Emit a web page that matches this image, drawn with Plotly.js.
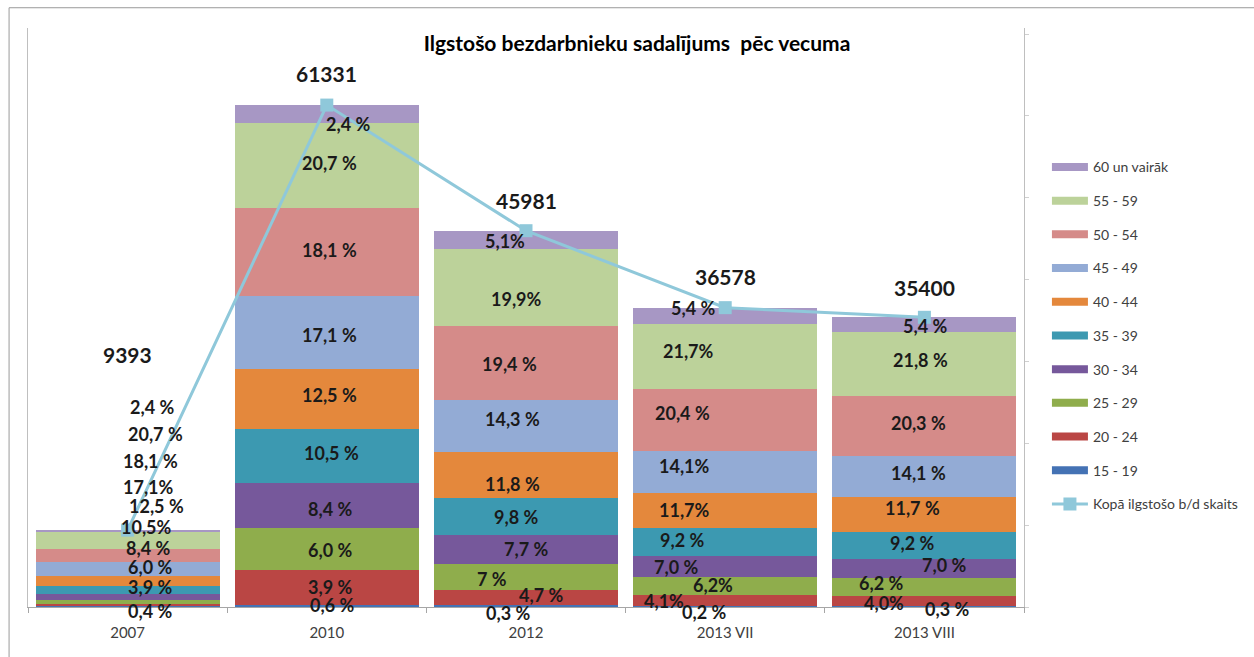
<!DOCTYPE html>
<html>
<head>
<meta charset="utf-8">
<script src="https://cdn.plot.ly/plotly-3.0.1.min.js"></script>
<style>
  html, body { margin: 0; padding: 0; background: #fff; }
  #Graph { width: 1254px; height: 657px; }
</style>
</head>
<body>
<div id="Graph"></div>
<script>
// categories and totals
var years = ['2007', '2010', '2012', '2013 VII', '2013 VIII'];
var totals = [9393, 61331, 45981, 36578, 35400];

// age groups, bottom of the stack first
var groups = ['15 - 19', '20 - 24', '25 - 29', '30 - 34', '35 - 39', '40 - 44', '45 - 49', '50 - 54', '55 - 59', '60 un vairāk'];
var colors = ['#4472B4', '#BA4644', '#8FAD4C', '#76589B', '#3C99B1', '#E4883C', '#93ABD5', '#D58B89', '#BCD29A', '#A797C4'];

// people per group
var g15 = [62, 221, 244, 122, 122];
var g20 = [336, 4270, 1830, 1305, 1220];
var g25 = [498, 5120, 3140, 2233, 2245];
var g30 = [748, 5490, 3570, 2562, 2233];
var g35 = [910, 6710, 4550, 3465, 3379];
var g40 = [1246, 7320, 5580, 4270, 4221];
var g45 = [1657, 8900, 6340, 5075, 5002];
var g50 = [1657, 10770, 9030, 7613, 7413];
var g55 = [2155, 10370, 9467, 7908, 7735];
var g60 = [124, 2160, 2230, 2025, 1830];
var counts = [g15, g20, g25, g30, g35, g40, g45, g50, g55, g60];

// percentage labels as printed on the chart
var lab15 = ['0,4 %', '0,6 %', '0,3 %', '0,2 %', '0,3 %'];
var lab20 = ['3,9 %', '3,9 %', '4,7 %', '4,1%', '4,0%'];
var lab25 = ['6,0 %', '6,0 %', '7 %', '6,2%', '6,2 %'];
var lab30 = ['8,4 %', '8,4 %', '7,7 %', '7,0 %', '7,0 %'];
var lab35 = ['10,5%', '10,5 %', '9,8 %', '9,2 %', '9,2 %'];
var lab40 = ['12,5 %', '12,5 %', '11,8 %', '11,7%', '11,7 %'];
var lab45 = ['17,1%', '17,1 %', '14,3 %', '14,1%', '14,1 %'];
var lab50 = ['18,1 %', '18,1 %', '19,4 %', '20,4 %', '20,3 %'];
var lab55 = ['20,7 %', '20,7 %', '19,9%', '21,7%', '21,8 %'];
var lab60 = ['2,4 %', '2,4 %', '5,1%', '5,4 %', '5,4 %'];
var labels = [lab15, lab20, lab25, lab30, lab35, lab40, lab45, lab50, lab55, lab60];

// pixel nudges [dx, dy] of each label from its segment centre, per year
var nudges = [
  [[22, 4], [22, -18], [22, -35], [20, -49], [19, -63], [29, -75], [21, -82], [23, -95], [28, -106], [24, -124]],
  [[5, -1], [3, -1], [3, 1], [3, 3], [5, -3], [3, -4], [3, 3], [3, -2], [3, -2], [21, 10]],
  [[-18, 7], [15, -3], [-34, 2], [0, -1], [-10, 0], [-14, 9], [-14, -7], [-17, 1], [-10, 11], [-21, 1]],
  [[-21, 5], [-61, 0], [-12, -1], [-49, 0], [-43, -2], [-41, 0], [-41, -6], [-43, -7], [-37, -6], [-32, -8]],
  [[23, 2], [-40, 2], [-43, -4], [20, -4], [-12, -3], [-12, -6], [-6, -4], [-6, -3], [-4, -4], [1, 1]]
];
var totalShift = [176, 32, 30, 31, 30];

var lineColor = '#8FC8DA';
var labelFont = {family: 'Lato, sans-serif', size: 18, color: '#1a1a1a', weight: 'bold'};

var data = [];
groups.forEach(function (g, i) {
  data.push({
    type: 'bar', name: g, x: years, y: counts[i],
    marker: {color: colors[i], line: {width: 0}},
    showlegend: false, hoverinfo: 'x+y+name'
  });
});

// legend entries (top of the list = top of the stack)
for (var i = groups.length - 1; i >= 0; i--) {
  data.push({
    type: 'scatter', mode: 'lines', name: groups[i], x: [years[0]], y: [null],
    line: {color: colors[i], width: 8}, legendgroup: 'g' + i, hoverinfo: 'skip'
  });
}

data.push({
  type: 'scatter', mode: 'lines+markers', name: 'Kopā ilgstošo b/d skaits',
  x: years, y: totals, yaxis: 'y2', legendgroup: 'total',
  line: {color: lineColor, width: 3},
  marker: {color: lineColor, symbol: 'square', size: 13}
});

// annotations use the category index, since '2007' would be read as a number
var annotations = [];
years.forEach(function (yr, j) {
  var base = 0;
  counts.forEach(function (arr, i) {
    annotations.push({
      x: j, y: base + arr[j] / 2, text: labels[i][j], showarrow: false,
      xshift: nudges[j][i][0], yshift: -nudges[j][i][1], font: labelFont
    });
    base += arr[j];
  });
  annotations.push({
    x: j, y: totals[j], text: String(totals[j]), showarrow: false,
    yshift: totalShift[j],
    font: {family: 'Lato, sans-serif', size: 21, color: '#1a1a1a', weight: 'bold'}
  });
});

var yMax = 70750;
var layout = {
  width: 1254, height: 657,
  margin: {l: 28, r: 229, t: 28, b: 50},
  paper_bgcolor: '#fff', plot_bgcolor: '#fff',
  font: {family: 'Lato, sans-serif', color: '#404040'},
  title: {
    text: 'Ilgstošo bezdarbnieku sadalījums  pēc vecuma',
    font: {family: 'Lato, sans-serif', size: 21, color: '#000', weight: 'bold'},
    xref: 'container', x: 0.508, xanchor: 'center',
    yref: 'container', y: 0.934, yanchor: 'middle'
  },
  barmode: 'stack', bargap: 0.077,
  showlegend: true,
  legend: {
    x: 1.022, xanchor: 'left', y: 0.787, yanchor: 'top',
    traceorder: 'grouped', tracegroupgap: 12.5, itemwidth: 36,
    font: {family: 'Lato, sans-serif', size: 14, color: '#404040'}
  },
  xaxis: {
    type: 'category', categoryorder: 'array', categoryarray: years,
    range: [-0.5, years.length - 0.5],
    showline: true, linecolor: '#a6a6a6', linewidth: 1,
    ticks: 'outside', tickson: 'boundaries', ticklen: 5, tickcolor: '#a6a6a6',
    ticklabelstandoff: 12,
    tickfont: {size: 15, color: '#404040'}, showgrid: false, zeroline: false
  },
  yaxis: {
    range: [0, yMax], showline: true, mirror: true, linecolor: '#bfbfbf',
    showticklabels: false, ticks: '', showgrid: false, zeroline: false
  },
  yaxis2: {
    range: [0, yMax], overlaying: 'y', side: 'right', showline: false,
    ticks: 'outside', ticklen: 4, tickcolor: '#d0d0d0', dtick: 10000,
    showticklabels: false, showgrid: false, zeroline: false
  },
  annotations: annotations,
  shapes: [{
    type: 'rect', xref: 'paper', yref: 'paper',
    x0: -0.019, x1: 1.238, y0: -0.11, y1: 1.035,
    line: {color: '#9a9a9a', width: 1}
  }]
};

Plotly.newPlot('Graph', data, layout, {displayModeBar: false});
</script>
</body>
</html>
